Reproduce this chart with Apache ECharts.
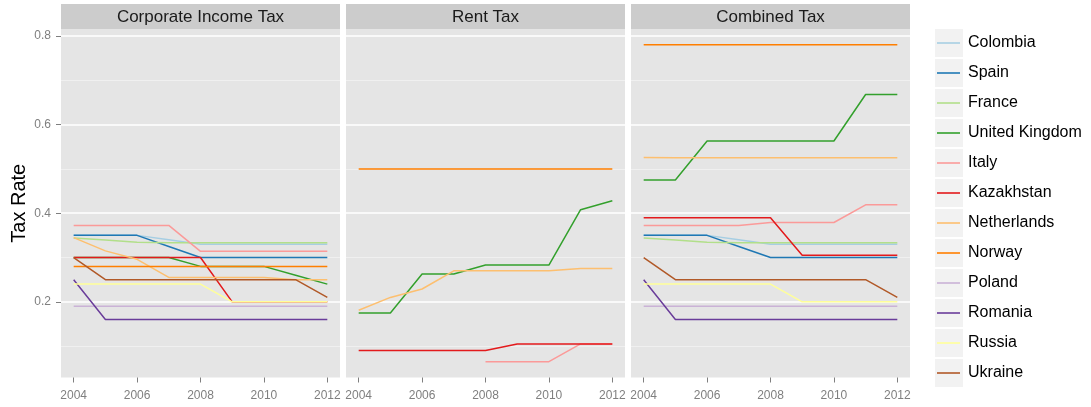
<!DOCTYPE html>
<html>
<head>
<meta charset="utf-8">
<title>Tax Rate by Country</title>
<script src="https://cdn.jsdelivr.net/npm/echarts@6/dist/echarts.min.js"></script>
<style>
  html, body { margin: 0; padding: 0; background: #ffffff; }
  #chart { width: 1091px; height: 407px; }
</style>
</head>
<body>
<div id="chart"></div>
<script>
// ---- data ----
const years = [2004, 2005, 2006, 2007, 2008, 2009, 2010, 2011, 2012];
const yearTicks = [2004, 2006, 2008, 2010, 2012];
const rateTicksMajor = [0.2, 0.4, 0.6, 0.8];
const rateTicksMinor = [0.1, 0.3, 0.5, 0.7];

const countries = ['Colombia', 'Spain', 'France', 'United Kingdom', 'Italy', 'Kazakhstan',
  'Netherlands', 'Norway', 'Poland', 'Romania', 'Russia', 'Ukraine'];
const countryColors = ['#A6CEE3', '#1F78B4', '#B2DF8A', '#33A02C', '#FB9A99', '#E31A1C',
  '#FDBF6F', '#FF7F00', '#CAB2D6', '#6A3D9A', '#FFFF99', '#B15928'];

const panelTitles = ['Corporate Income Tax', 'Rent Tax', 'Combined Tax'];

// rows follow the order of `countries`, columns follow `years`
const corporateRates = [
  [0.35, 0.35, 0.35, 0.34, 0.33, 0.33, 0.33, 0.33, 0.33],          // Colombia
  [0.35, 0.35, 0.35, 0.325, 0.30, 0.30, 0.30, 0.30, 0.30],         // Spain
  [0.3443, 0.3393, 0.3343, 0.3333, 0.3333, 0.3333, 0.3333, 0.3333, 0.3333], // France
  [0.30, 0.30, 0.30, 0.30, 0.28, 0.28, 0.28, 0.26, 0.24],          // United Kingdom
  [0.3725, 0.3725, 0.3725, 0.3725, 0.314, 0.314, 0.314, 0.314, 0.314], // Italy
  [0.30, 0.30, 0.30, 0.30, 0.30, 0.20, 0.20, 0.20, 0.20],          // Kazakhstan
  [0.345, 0.315, 0.296, 0.255, 0.255, 0.255, 0.255, 0.25, 0.25],   // Netherlands
  [0.28, 0.28, 0.28, 0.28, 0.28, 0.28, 0.28, 0.28, 0.28],          // Norway
  [0.19, 0.19, 0.19, 0.19, 0.19, 0.19, 0.19, 0.19, 0.19],          // Poland
  [0.25, 0.16, 0.16, 0.16, 0.16, 0.16, 0.16, 0.16, 0.16],          // Romania
  [0.24, 0.24, 0.24, 0.24, 0.24, 0.20, 0.20, 0.20, 0.20],          // Russia
  [0.30, 0.25, 0.25, 0.25, 0.25, 0.25, 0.25, 0.25, 0.21]           // Ukraine
];

const rentRates = [
  null,                                                            // Colombia
  null,                                                            // Spain
  null,                                                            // France
  [0.175, 0.175, 0.263, 0.263, 0.283, 0.283, 0.283, 0.408, 0.428], // United Kingdom
  [null, null, null, null, 0.065, 0.065, 0.065, 0.105, 0.105],     // Italy
  [0.09, 0.09, 0.09, 0.09, 0.09, 0.105, 0.105, 0.105, 0.105],      // Kazakhstan
  [0.181, 0.21, 0.229, 0.27, 0.27, 0.27, 0.27, 0.275, 0.275],      // Netherlands
  [0.50, 0.50, 0.50, 0.50, 0.50, 0.50, 0.50, 0.50, 0.50],          // Norway
  null,                                                            // Poland
  null,                                                            // Romania
  null,                                                            // Russia
  null                                                             // Ukraine
];

const combinedRates = [
  [0.35, 0.35, 0.35, 0.34, 0.33, 0.33, 0.33, 0.33, 0.33],          // Colombia
  [0.35, 0.35, 0.35, 0.325, 0.30, 0.30, 0.30, 0.30, 0.30],         // Spain
  [0.3443, 0.3393, 0.3343, 0.3333, 0.3333, 0.3333, 0.3333, 0.3333, 0.3333], // France
  [0.475, 0.475, 0.563, 0.563, 0.563, 0.563, 0.563, 0.668, 0.668], // United Kingdom
  [0.3725, 0.3725, 0.3725, 0.3725, 0.379, 0.379, 0.379, 0.419, 0.419], // Italy
  [0.39, 0.39, 0.39, 0.39, 0.39, 0.305, 0.305, 0.305, 0.305],      // Kazakhstan
  [0.526, 0.525, 0.525, 0.525, 0.525, 0.525, 0.525, 0.525, 0.525], // Netherlands
  [0.78, 0.78, 0.78, 0.78, 0.78, 0.78, 0.78, 0.78, 0.78],          // Norway
  [0.19, 0.19, 0.19, 0.19, 0.19, 0.19, 0.19, 0.19, 0.19],          // Poland
  [0.25, 0.16, 0.16, 0.16, 0.16, 0.16, 0.16, 0.16, 0.16],          // Romania
  [0.24, 0.24, 0.24, 0.24, 0.24, 0.20, 0.20, 0.20, 0.20],          // Russia
  [0.30, 0.25, 0.25, 0.25, 0.25, 0.25, 0.25, 0.25, 0.21]           // Ukraine
];

// ---- layout ----
const FONT = '"Liberation Sans", Arial, Helvetica, sans-serif';
const panelLeft = [61, 346, 631];
const panelWidth = 279;
const panelTop = 29;
const panelHeight = 348.5;
const stripTop = 4;
const stripHeight = 25;

const panelRates = [corporateRates, rentRates, combinedRates];

// shared scales, padded by 5% of the data range on each side
const allValues = panelRates.flat().filter(r => r).flat().filter(v => v != null);
const vMin = Math.min(...allValues), vMax = Math.max(...allValues);
const vPad = (vMax - vMin) * 0.05;
const yMin = vMin - vPad, yMax = vMax + vPad;
const xPad = (years[years.length - 1] - years[0]) * 0.05;
const xMin = years[0] - xPad, xMax = years[years.length - 1] + xPad;

const grids = [], xAxes = [], yAxes = [], series = [], graphics = [];

panelRates.forEach((rates, p) => {
  grids.push({
    left: panelLeft[p], top: panelTop, width: panelWidth, height: panelHeight,
    show: true, backgroundColor: '#E5E5E5', borderWidth: 0
  });

  xAxes.push({
    gridIndex: p, type: 'value', min: xMin, max: xMax,
    axisLine: { show: false },
    splitLine: { show: false },
    axisTick: { show: true, length: 5, customValues: yearTicks, lineStyle: { color: '#7F7F7F', width: 1 } },
    axisLabel: {
      customValues: yearTicks, formatter: v => String(v),
      color: '#7F7F7F', fontSize: 12, fontFamily: FONT, margin: 12
    }
  });

  const firstPanel = p === 0;
  yAxes.push({
    gridIndex: p, type: 'value', min: yMin, max: yMax,
    axisLine: { show: false },
    splitLine: { show: false },
    axisTick: { show: firstPanel, length: 5, customValues: rateTicksMajor, lineStyle: { color: '#7F7F7F', width: 1 } },
    axisLabel: {
      show: firstPanel, customValues: rateTicksMajor, formatter: v => v.toFixed(1),
      color: '#7F7F7F', fontSize: 12, fontFamily: FONT, margin: 10
    },
    name: firstPanel ? 'Tax Rate' : '',
    nameLocation: 'middle', nameRotate: 90, nameGap: 32,
    nameTextStyle: { fontSize: 20, color: '#000000', fontFamily: FONT }
  });

  // panel grid lines (minor light, major white)
  series.push({
    type: 'line', name: 'gridlines-' + p, xAxisIndex: p, yAxisIndex: p,
    data: [], silent: true, animation: false, z: 1,
    markLine: {
      silent: true, animation: false, z: 1, symbol: ['none', 'none'],
      label: { show: false },
      emphasis: { disabled: true },
      data: rateTicksMinor.map(v => ({ yAxis: v, lineStyle: { color: '#F2F2F2', width: 0.8, type: 'solid' } }))
        .concat(rateTicksMajor.map(v => ({ yAxis: v, lineStyle: { color: '#FFFFFF', width: 1.6, type: 'solid' } })))
    }
  });

  rates.forEach((row, c) => {
    if (!row) return;
    series.push({
      type: 'line', name: countries[c], xAxisIndex: p, yAxisIndex: p,
      data: years.map((y, i) => [y, row[i]]).filter(d => d[1] != null),
      symbol: 'none', showSymbol: false, silent: true, animation: false, z: 3,
      color: countryColors[c],
      lineStyle: { color: countryColors[c], width: 1.5 },
      emphasis: { disabled: true }
    });
  });

  // facet strip
  graphics.push({
    type: 'rect', silent: true,
    shape: { x: panelLeft[p], y: stripTop, width: panelWidth, height: stripHeight },
    style: { fill: '#CCCCCC' }
  });
  graphics.push({
    type: 'text', silent: true,
    style: {
      text: panelTitles[p], x: panelLeft[p] + panelWidth / 2, y: stripTop + stripHeight / 2 + 0.5,
      align: 'center', verticalAlign: 'middle',
      font: '17px ' + FONT, fill: '#1A1A1A'
    }
  });
});

const chart = echarts.init(document.getElementById('chart'), null, { renderer: 'canvas' });
chart.setOption({
  animation: false,
  backgroundColor: '#FFFFFF',
  grid: grids,
  xAxis: xAxes,
  yAxis: yAxes,
  legend: [
    { // key boxes
      data: countries, orient: 'vertical', left: 935, top: 29, padding: 0,
      itemWidth: 28, itemHeight: 28, itemGap: 2, icon: 'rect',
      itemStyle: { color: '#F2F2F2', borderWidth: 0 },
      formatter: () => '', selectedMode: false,
      textStyle: { fontSize: 1 }
    },
    { // key lines and country names
      data: countries, orient: 'vertical', left: 937, top: 29, padding: 0,
      itemWidth: 23, itemHeight: 1.6, itemGap: 2, icon: 'rect',
      itemStyle: { borderWidth: 0 },
      selectedMode: false,
      textStyle: { fontSize: 16, color: '#000000', fontFamily: FONT, lineHeight: 28, padding: [0, 0, 0, 3] }
    }
  ],
  series: series,
  graphic: graphics
});
</script>
</body>
</html>
